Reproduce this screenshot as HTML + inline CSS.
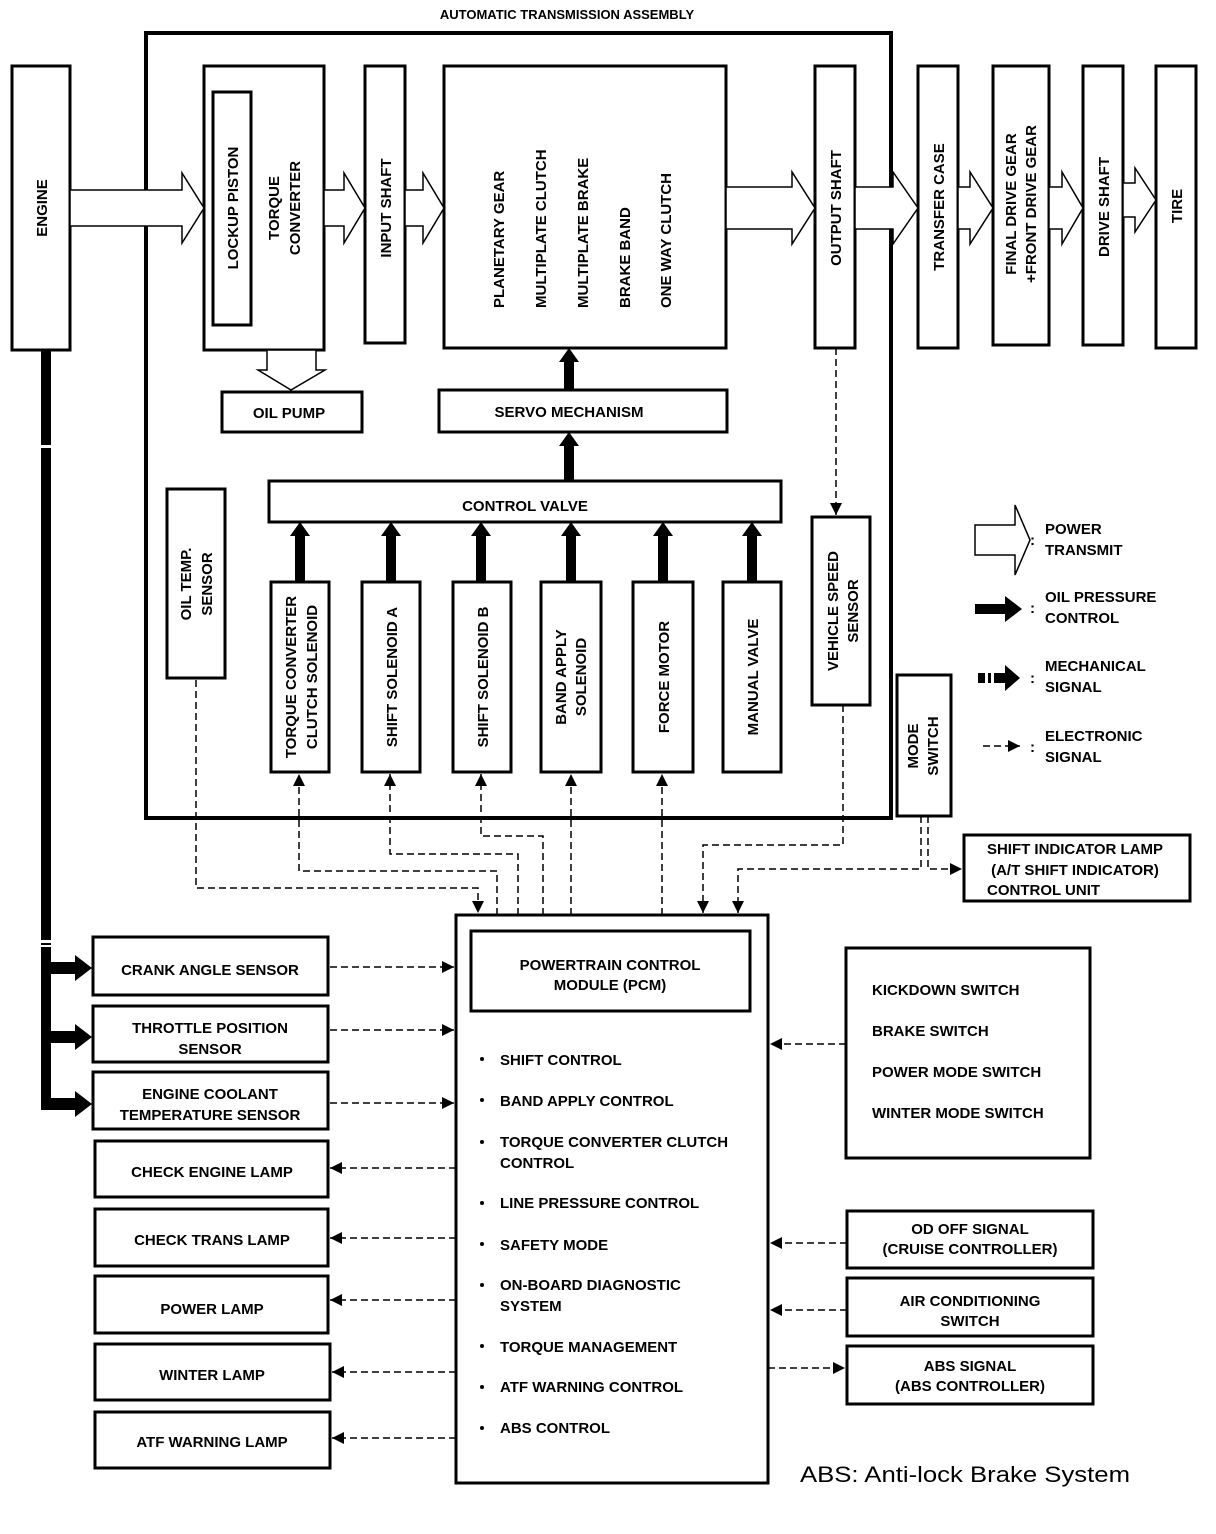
<!DOCTYPE html>
<html><head><meta charset="utf-8"><style>
html,body{margin:0;padding:0;background:#fff}
svg{display:block}
text{font-family:"Liberation Sans",Arial,sans-serif;font-weight:bold;font-size:15px;fill:#000}
</style></head><body>
<svg width="1216" height="1534" viewBox="0 0 1216 1534" xmlns="http://www.w3.org/2000/svg">
<defs>
<marker id="ah" viewBox="0 0 10 10" refX="10" refY="5" markerWidth="14" markerHeight="12" markerUnits="userSpaceOnUse" orient="auto"><path d="M0,0 L10,5 L0,10 z" fill="#000"/></marker>
</defs>
<text x="567" y="19" text-anchor="middle" style="font-size:13px">AUTOMATIC TRANSMISSION ASSEMBLY</text>
<g fill="none" stroke="#000" stroke-width="3">
<rect x="146" y="33" width="745" height="785" stroke-width="4"/>
<rect x="12" y="66" width="58" height="284"/>
<rect x="204" y="66" width="120" height="284"/>
<rect x="213" y="92" width="38" height="233"/>
<rect x="365" y="66" width="40" height="277"/>
<rect x="444" y="66" width="282" height="282"/>
<rect x="815" y="66" width="40" height="282"/>
<rect x="918" y="66" width="40" height="282"/>
<rect x="993" y="66" width="56" height="279"/>
<rect x="1083" y="66" width="40" height="279"/>
<rect x="1156" y="66" width="40" height="282"/>
<rect x="222" y="392" width="140" height="40"/>
<rect x="439" y="390" width="288" height="42"/>
<rect x="269" y="481" width="512" height="41"/>
<rect x="167" y="489" width="58" height="189"/>
<rect x="271" y="582" width="58" height="190"/>
<rect x="362" y="582" width="58" height="190"/>
<rect x="453" y="582" width="58" height="190"/>
<rect x="541" y="582" width="60" height="190"/>
<rect x="633" y="582" width="60" height="190"/>
<rect x="723" y="582" width="58" height="190"/>
<rect x="812" y="517" width="58" height="188"/>
<rect x="897" y="675" width="54" height="141"/>
<rect x="964" y="835" width="226" height="66"/>
<rect x="456" y="915" width="312" height="568"/>
<rect x="471" y="931" width="279" height="80"/>
<rect x="93" y="937" width="235" height="58"/>
<rect x="93" y="1006" width="235" height="56"/>
<rect x="93" y="1072" width="235" height="57"/>
<rect x="95" y="1141" width="233" height="56"/>
<rect x="95" y="1209" width="233" height="57"/>
<rect x="95" y="1276" width="233" height="57"/>
<rect x="95" y="1344" width="235" height="56"/>
<rect x="95" y="1412" width="235" height="56"/>
<rect x="846" y="948" width="244" height="210"/>
<rect x="847" y="1211" width="246" height="57"/>
<rect x="847" y="1278" width="246" height="58"/>
<rect x="847" y="1346" width="246" height="58"/>
</g>
<g fill="#fff" stroke="#000" stroke-width="1.5">
<polygon points="70,190 182,190 182,173 204,208 182,243 182,226 70,226"/>
<polygon points="324,190 344,190 344,173 365,208 344,243 344,226 324,226"/>
<polygon points="405,190 423,190 423,173 444,208 423,243 423,226 405,226"/>
<polygon points="726,187 792,187 792,172 815,208 792,244 792,229 726,229"/>
<polygon points="855,187 893,187 893,172 918,208 893,244 893,229 855,229"/>
<polygon points="958,187 970,187 970,172 993,208 970,244 970,229 958,229"/>
<polygon points="1049,187 1062,187 1062,172 1083,208 1062,244 1062,229 1049,229"/>
<polygon points="1123,183 1135,183 1135,168 1156,200 1135,232 1135,217 1123,217"/>
<polygon points="267,350 316,350 316,370 325,370 291,390 258,370 267,370"/>
<polygon points="975,525 1015,525 1015,505 1030,540 1015,575 1015,555 975,555"/>
</g>
<g fill="#000">
<path d="M564,390 V362 H559 L569,348 L579,362 H574 V390 Z"/>
<path d="M564,481 V446 H559 L569,432 L579,446 H574 V481 Z"/>
<path d="M295,582 V536 H290 L300,522 L310,536 H305 V582 Z"/>
<path d="M386,582 V536 H381 L391,522 L401,536 H396 V582 Z"/>
<path d="M476,582 V536 H471 L481,522 L491,536 H486 V582 Z"/>
<path d="M566,582 V536 H561 L571,522 L581,536 H576 V582 Z"/>
<path d="M658,582 V536 H653 L663,522 L673,536 H668 V582 Z"/>
<path d="M747,582 V536 H742 L752,522 L762,536 H757 V582 Z"/>
<path d="M975,604 H1005 V596 L1022,609 L1005,622 V614 H975 Z"/>
<path d="M978,673 H1005 V665 L1020,678 L1005,691 V683 H978 Z"/>
<rect x="41" y="350" width="10" height="760"/>
<path d="M41,962 H75 V955 L92,968 L75,981 V974 H41 Z"/>
<path d="M41,1031 H75 V1024 L92,1037 L75,1050 V1043 H41 Z"/>
<path d="M41,1098 H75 V1091 L92,1104 L75,1117 V1110 H41 Z"/>
</g>
<g fill="#fff"><rect x="985" y="672" width="3" height="13"/><rect x="991" y="672" width="3" height="13"/><rect x="40" y="445" width="12" height="3"/><rect x="40" y="940" width="12" height="3"/><rect x="40" y="945" width="12" height="2"/></g>
<g fill="none" stroke="#000" stroke-width="1.5" stroke-dasharray="7,4">
<path d="M983,746 H1020" marker-end="url(#ah)"/>
<path d="M836,348 V515" marker-end="url(#ah)"/>
<path d="M196,680 V888 H478 V913" marker-end="url(#ah)"/>
<path d="M497,915 V871 H299 V774" marker-end="url(#ah)"/>
<path d="M518,915 V854 H390 V774" marker-end="url(#ah)"/>
<path d="M543,915 V836 H481 V774" marker-end="url(#ah)"/>
<path d="M571,915 V774" marker-end="url(#ah)"/>
<path d="M662,915 V774" marker-end="url(#ah)"/>
<path d="M843,705 V845 H703 V913" marker-end="url(#ah)"/>
<path d="M921,816 V869 H738 V913" marker-end="url(#ah)"/>
<path d="M928,816 V869 H962" marker-end="url(#ah)"/>
<path d="M330,967 H454" marker-end="url(#ah)"/>
<path d="M330,1030 H454" marker-end="url(#ah)"/>
<path d="M330,1103 H454" marker-end="url(#ah)"/>
<path d="M456,1168 H330" marker-end="url(#ah)"/>
<path d="M456,1238 H330" marker-end="url(#ah)"/>
<path d="M456,1300 H330" marker-end="url(#ah)"/>
<path d="M456,1372 H332" marker-end="url(#ah)"/>
<path d="M456,1438 H332" marker-end="url(#ah)"/>
<path d="M846,1044 H770" marker-end="url(#ah)"/>
<path d="M847,1243 H770" marker-end="url(#ah)"/>
<path d="M847,1310 H770" marker-end="url(#ah)"/>
<path d="M768,1368 H845" marker-end="url(#ah)"/>
</g>
<g>
<text transform="translate(47,208) rotate(-90)" text-anchor="middle">ENGINE</text>
<text transform="translate(238,208) rotate(-90)" text-anchor="middle">LOCKUP PISTON</text>
<text transform="translate(279,208) rotate(-90)" text-anchor="middle">TORQUE</text>
<text transform="translate(300,208) rotate(-90)" text-anchor="middle">CONVERTER</text>
<text transform="translate(391,208) rotate(-90)" text-anchor="middle">INPUT SHAFT</text>
<text transform="translate(504,308) rotate(-90)">PLANETARY GEAR</text>
<text transform="translate(546,308) rotate(-90)">MULTIPLATE CLUTCH</text>
<text transform="translate(588,308) rotate(-90)">MULTIPLATE BRAKE</text>
<text transform="translate(630,308) rotate(-90)">BRAKE BAND</text>
<text transform="translate(671,308) rotate(-90)">ONE WAY CLUTCH</text>
<text transform="translate(841,208) rotate(-90)" text-anchor="middle">OUTPUT SHAFT</text>
<text transform="translate(944,207) rotate(-90)" text-anchor="middle">TRANSFER CASE</text>
<text transform="translate(1016,204) rotate(-90)" text-anchor="middle">FINAL DRIVE GEAR</text>
<text transform="translate(1036,204) rotate(-90)" text-anchor="middle">+FRONT DRIVE GEAR</text>
<text transform="translate(1109,207) rotate(-90)" text-anchor="middle">DRIVE SHAFT</text>
<text transform="translate(1182,206) rotate(-90)" text-anchor="middle">TIRE</text>
<text transform="translate(191,584) rotate(-90)" text-anchor="middle">OIL TEMP.</text>
<text transform="translate(212,584) rotate(-90)" text-anchor="middle">SENSOR</text>
<text transform="translate(296,677) rotate(-90)" text-anchor="middle">TORQUE CONVERTER</text>
<text transform="translate(317,677) rotate(-90)" text-anchor="middle">CLUTCH SOLENOID</text>
<text transform="translate(397,677) rotate(-90)" text-anchor="middle">SHIFT SOLENOID A</text>
<text transform="translate(488,677) rotate(-90)" text-anchor="middle">SHIFT SOLENOID B</text>
<text transform="translate(566,677) rotate(-90)" text-anchor="middle">BAND APPLY</text>
<text transform="translate(586,677) rotate(-90)" text-anchor="middle">SOLENOID</text>
<text transform="translate(669,677) rotate(-90)" text-anchor="middle">FORCE MOTOR</text>
<text transform="translate(758,677) rotate(-90)" text-anchor="middle">MANUAL VALVE</text>
<text transform="translate(838,611) rotate(-90)" text-anchor="middle">VEHICLE SPEED</text>
<text transform="translate(858,611) rotate(-90)" text-anchor="middle">SENSOR</text>
<text transform="translate(918,746) rotate(-90)" text-anchor="middle">MODE</text>
<text transform="translate(938,746) rotate(-90)" text-anchor="middle">SWITCH</text>
</g>
<g text-anchor="middle">
<text x="289" y="418">OIL PUMP</text>
<text x="569" y="417">SERVO MECHANISM</text>
<text x="525" y="511">CONTROL VALVE</text>
<text x="1075" y="854">SHIFT INDICATOR LAMP</text>
<text x="1075" y="875">(A/T SHIFT INDICATOR)</text>
<text x="610" y="970">POWERTRAIN CONTROL</text>
<text x="610" y="990">MODULE (PCM)</text>
<text x="210" y="975">CRANK ANGLE SENSOR</text>
<text x="210" y="1033">THROTTLE POSITION</text>
<text x="210" y="1054">SENSOR</text>
<text x="210" y="1099">ENGINE COOLANT</text>
<text x="210" y="1120">TEMPERATURE SENSOR</text>
<text x="212" y="1177">CHECK ENGINE LAMP</text>
<text x="212" y="1245">CHECK TRANS LAMP</text>
<text x="212" y="1314">POWER LAMP</text>
<text x="212" y="1380">WINTER LAMP</text>
<text x="212" y="1447">ATF WARNING LAMP</text>
<text x="970" y="1234">OD OFF SIGNAL</text>
<text x="970" y="1254">(CRUISE CONTROLLER)</text>
<text x="970" y="1306">AIR CONDITIONING</text>
<text x="970" y="1326">SWITCH</text>
<text x="970" y="1371">ABS SIGNAL</text>
<text x="970" y="1391">(ABS CONTROLLER)</text>
</g>
<text x="987" y="895">CONTROL UNIT</text>
<g>
<text x="1045" y="534">POWER</text><text x="1045" y="555">TRANSMIT</text>
<text x="1045" y="602">OIL PRESSURE</text><text x="1045" y="623">CONTROL</text>
<text x="1045" y="671">MECHANICAL</text><text x="1045" y="692">SIGNAL</text>
<text x="1045" y="741">ELECTRONIC</text><text x="1045" y="762">SIGNAL</text>
<text x="1030" y="545">:</text><text x="1030" y="613">:</text><text x="1030" y="683">:</text><text x="1030" y="752">:</text>
<text x="872" y="995">KICKDOWN SWITCH</text>
<text x="872" y="1036">BRAKE SWITCH</text>
<text x="872" y="1077">POWER MODE SWITCH</text>
<text x="872" y="1118">WINTER MODE SWITCH</text>
<text x="500" y="1065">SHIFT CONTROL</text>
<text x="500" y="1106">BAND APPLY CONTROL</text>
<text x="500" y="1147">TORQUE CONVERTER CLUTCH</text>
<text x="500" y="1168">CONTROL</text>
<text x="500" y="1208">LINE PRESSURE CONTROL</text>
<text x="500" y="1250">SAFETY MODE</text>
<text x="500" y="1290">ON-BOARD DIAGNOSTIC</text>
<text x="500" y="1311">SYSTEM</text>
<text x="500" y="1352">TORQUE MANAGEMENT</text>
<text x="500" y="1392">ATF WARNING CONTROL</text>
<text x="500" y="1433">ABS CONTROL</text>
<text x="800" y="1482" style="font-size:22px;font-weight:normal" textLength="330" lengthAdjust="spacingAndGlyphs">ABS: Anti-lock Brake System</text>
</g>
<g fill="#000">
<circle cx="482" cy="1059" r="2"/><circle cx="482" cy="1100" r="2"/><circle cx="482" cy="1142" r="2"/><circle cx="482" cy="1203" r="2"/><circle cx="482" cy="1244" r="2"/><circle cx="482" cy="1285" r="2"/><circle cx="482" cy="1346" r="2"/><circle cx="482" cy="1387" r="2"/><circle cx="482" cy="1428" r="2"/>
</g>
</svg>
</body></html>
